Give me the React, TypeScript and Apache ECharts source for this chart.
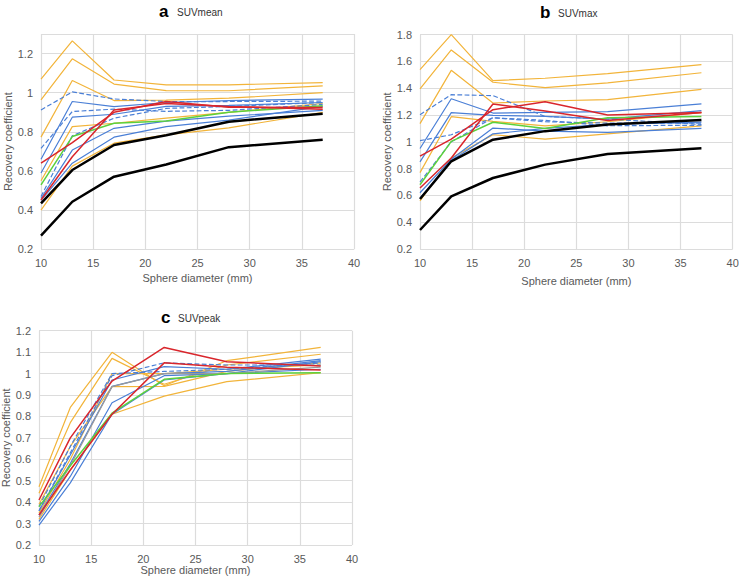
import React, { useEffect, useRef } from "react";
import * as echarts from "echarts";

const DIAMETERS = [10, 13, 17, 22, 28, 37];

// Panel a: SUVmean
const meanOrange = [
  [1.07, 1.265, 1.065, 1.04, 1.04, 1.052],
  [0.963, 1.173, 1.044, 1.011, 1.01, 1.035],
  [0.773, 1.062, 0.96, 0.962, 0.972, 1.0],
  [0.55, 0.827, 0.844, 0.87, 0.9, 0.945],
  [0.4, 0.625, 0.742, 0.785, 0.82, 0.9],
];
const meanBlue = [
  [0.66, 0.955, 0.929, 0.95, 0.96, 0.967],
  [0.59, 0.875, 0.89, 0.93, 0.935, 0.95],
  [0.46, 0.707, 0.818, 0.855, 0.88, 0.91],
  [0.45, 0.64, 0.773, 0.827, 0.86, 0.93],
];
const meanBlueDashed = [
  [0.912, 1.004, 0.968, 0.955, 0.955, 0.957],
  [0.716, 0.904, 0.916, 0.905, 0.91, 0.94],
  [0.47, 0.78, 0.87, 0.92, 0.93, 0.95],
];
const meanGreen = [[0.529, 0.776, 0.844, 0.855, 0.9, 0.934]];
const meanRed = [
  [0.64, 0.745, 0.9, 0.955, 0.926, 0.924],
  [0.452, 0.673, 0.912, 0.945, 0.93, 0.916],
];
const meanBlack = [
  [0.435, 0.605, 0.733, 0.783, 0.852, 0.893],
  [0.27, 0.443, 0.571, 0.633, 0.722, 0.76],
];

// Panel b: SUVmax
const maxOrange = [
  [1.539, 1.8, 1.457, 1.475, 1.51, 1.576],
  [1.395, 1.686, 1.445, 1.405, 1.44, 1.516],
  [1.136, 1.534, 1.29, 1.305, 1.315, 1.392],
  [0.77, 1.188, 1.153, 1.12, 1.15, 1.218],
  [0.56, 0.88, 1.053, 1.021, 1.06, 1.12],
];
const maxBlue = [
  [0.95, 1.322, 1.215, 1.22, 1.225, 1.283],
  [0.85, 1.218, 1.198, 1.19, 1.17, 1.233],
  [0.62, 0.87, 1.103, 1.08, 1.07, 1.1],
  [0.58, 0.86, 1.06, 1.1, 1.13, 1.148],
];
const maxBlueDashed = [
  [1.203, 1.352, 1.345, 1.19, 1.17, 1.13],
  [1.009, 1.053, 1.18, 1.16, 1.12, 1.124],
  [0.7, 1.0, 1.18, 1.15, 1.14, 1.14],
];
const maxGreen = [[0.68, 1.004, 1.146, 1.1, 1.18, 1.19]];
const maxRed = [
  [0.894, 1.02, 1.24, 1.3, 1.2, 1.22],
  [0.655, 0.88, 1.283, 1.23, 1.16, 1.22],
];
const maxBlack = [
  [0.573, 0.855, 1.016, 1.08, 1.13, 1.163],
  [0.342, 0.593, 0.73, 0.83, 0.909, 0.952],
];

// Panel c: SUVpeak
const peakOrange = [
  [0.472, 0.842, 1.099, 0.943, 1.06, 1.122],
  [0.441, 0.771, 1.071, 0.95, 1.04, 1.09],
  [0.39, 0.66, 0.939, 0.94, 1.01, 1.05],
  [0.35, 0.6, 1.0, 1.0, 1.02, 1.04],
  [0.32, 0.55, 0.81, 0.895, 0.962, 1.004],
];
const peakBlue = [
  [0.36, 0.62, 0.97, 1.032, 1.02, 1.067],
  [0.34, 0.58, 0.94, 1.0, 1.01, 1.06],
  [0.31, 0.52, 0.864, 0.99, 1.0, 1.056],
  [0.293, 0.49, 0.81, 0.97, 1.0, 1.02],
];
const peakBlueDashed = [
  [0.38, 0.66, 1.0, 1.01, 1.02, 1.05],
  [0.36, 0.63, 0.99, 1.05, 1.04, 1.04],
];
const peakGray = [[0.33, 0.57, 0.939, 1.0, 1.0, 1.03]];
const peakGreen = [[0.379, 0.57, 0.815, 0.973, 1.0, 1.004]];
const peakRed = [
  [0.41, 0.7, 0.965, 1.122, 1.055, 1.035],
  [0.34, 0.55, 0.81, 1.05, 1.03, 1.017],
];

const PANEL_TITLES = [
  { letter: "a", name: "SUVmean" },
  { letter: "b", name: "SUVmax" },
  { letter: "c", name: "SUVpeak" },
];
const X_NAME = "Sphere diameter (mm)";
const Y_NAME = "Recovery coefficient";

const FONT = "'Liberation Sans', Arial, Helvetica, sans-serif";
const ORANGE = "#f2b43a";
const BLUE = "#4a7fd6";
const RED = "#d9262c";
const GREEN = "#5cd13c";
const BLACK = "#000000";
const GRAY = "#9a9a9a";
const GRID_LINE = "#dcdcdc";
const LABEL = "#595959";

function toPoints(vals: number[]) {
  return vals.map((v, i) => [DIAMETERS[i], v]);
}

function makeSeries(
  groups: number[][],
  idx: number,
  color: string,
  width: number,
  type: string = "solid"
) {
  return groups.map((vals) => ({
    type: "line",
    xAxisIndex: idx,
    yAxisIndex: idx,
    data: toPoints(vals),
    showSymbol: false,
    symbol: "none",
    silent: true,
    lineStyle: { color, width, type },
    itemStyle: { color },
  }));
}

export default function App() {
  const ref = useRef<HTMLDivElement>(null);
  useEffect(() => {
    if (!ref.current) return;
    const chart = echarts.init(ref.current, undefined, { renderer: "svg" });

    const grids = [
      { left: 41, top: 34, width: 313, height: 215.3 },
      { left: 420, top: 34.7, width: 312.7, height: 214.3 },
      { left: 39, top: 330.7, width: 313, height: 214.3 },
    ];
    const yRanges = [
      { min: 0.2, max: 1.3, interval: 0.2, hideAbove: 1.25 },
      { min: 0.2, max: 1.8, interval: 0.2, hideAbove: 9 },
      { min: 0.2, max: 1.2, interval: 0.1, hideAbove: 9 },
    ];
    const xNameGaps = [23, 26, 19];
    const yNameGaps = [22, 25, 25];

    const xAxis = grids.map((_, i) => ({
      type: "value",
      gridIndex: i,
      min: 10,
      max: 40,
      interval: 5,
      axisLine: { show: false },
      axisTick: { show: false },
      splitLine: { show: true, lineStyle: { color: GRID_LINE, width: 1.2 } },
      axisLabel: { color: LABEL, fontSize: 11, fontFamily: FONT, margin: 8 },
      name: X_NAME,
      nameLocation: "middle",
      nameGap: xNameGaps[i],
      nameTextStyle: { color: LABEL, fontSize: 11, fontFamily: FONT },
    }));

    const yAxis = yRanges.map((r, i) => ({
      type: "value",
      gridIndex: i,
      min: r.min,
      max: r.max,
      interval: r.interval,
      axisLine: { show: false },
      axisTick: { show: false },
      splitLine: { show: true, lineStyle: { color: GRID_LINE, width: 1.2 } },
      axisLabel: {
        color: LABEL,
        fontSize: 11,
        fontFamily: FONT,
        margin: 8,
        formatter: (v: number) => (v > r.hideAbove ? "" : String(+v.toFixed(1))),
      },
      name: Y_NAME,
      nameLocation: "middle",
      nameGap: yNameGaps[i],
      nameTextStyle: { color: LABEL, fontSize: 11, fontFamily: FONT },
    }));

    const series = [
      ...makeSeries(meanOrange, 0, ORANGE, 1.2),
      ...makeSeries(meanBlue, 0, BLUE, 1.2),
      ...makeSeries(meanBlueDashed, 0, BLUE, 1.2, "dashed"),
      ...makeSeries(meanGreen, 0, GREEN, 1.5),
      ...makeSeries(meanRed, 0, RED, 1.5),
      ...makeSeries(meanBlack, 0, BLACK, 2.5),
      ...makeSeries(maxOrange, 1, ORANGE, 1.2),
      ...makeSeries(maxBlue, 1, BLUE, 1.2),
      ...makeSeries(maxBlueDashed, 1, BLUE, 1.2, "dashed"),
      ...makeSeries(maxGreen, 1, GREEN, 1.5),
      ...makeSeries(maxRed, 1, RED, 1.5),
      ...makeSeries(maxBlack, 1, BLACK, 2.5),
      ...makeSeries(peakOrange, 2, ORANGE, 1.2),
      ...makeSeries(peakBlue, 2, BLUE, 1.2),
      ...makeSeries(peakBlueDashed, 2, BLUE, 1.2, "dashed"),
      ...makeSeries(peakGray, 2, GRAY, 1.2),
      ...makeSeries(peakGreen, 2, GREEN, 1.5),
      ...makeSeries(peakRed, 2, RED, 1.5),
    ];

    const titlePos = [
      { lx: 159, nx: 177, y: 11 },
      { lx: 540, nx: 558, y: 12 },
      { lx: 161, nx: 178, y: 317 },
    ];
    const graphic: any[] = [];
    PANEL_TITLES.forEach((t, i) => {
      const p = titlePos[i];
      graphic.push({
        type: "text",
        x: p.lx,
        y: p.y,
        style: {
          text: t.letter,
          fontSize: 17,
          fontWeight: "bold",
          fontFamily: FONT,
          fill: "#000",
          verticalAlign: "middle",
        },
      });
      graphic.push({
        type: "text",
        x: p.nx,
        y: p.y + 1,
        style: {
          text: t.name,
          fontSize: 10,
          fontFamily: FONT,
          fill: "#333",
          verticalAlign: "middle",
        },
      });
    });

    chart.setOption({
      animation: false,
      backgroundColor: "#ffffff",
      grid: grids.map((g) => ({ ...g, containLabel: false, outerBoundsMode: "none" })),
      xAxis,
      yAxis,
      series,
      graphic,
    });
    return () => chart.dispose();
  }, []);

  return (
    <div
      ref={ref}
      style={{ position: "fixed", left: 0, top: 0, width: 739, height: 576 }}
    />
  );
}
